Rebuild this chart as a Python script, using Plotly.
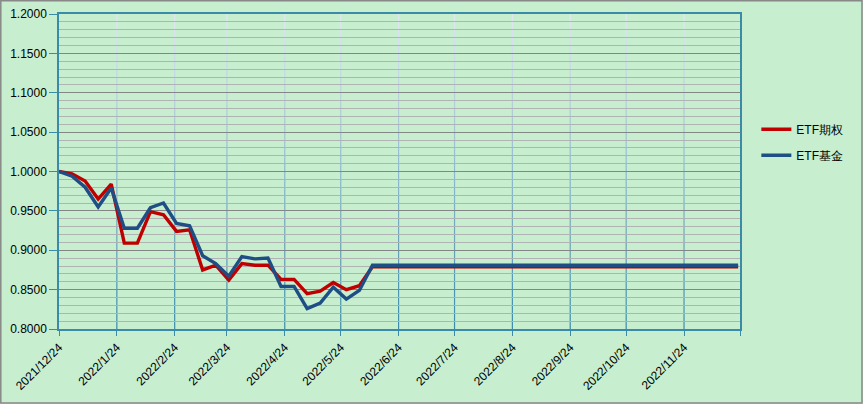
import plotly.graph_objects as go

dates = ["2021-12-24", "2021-12-31", "2022-01-07", "2022-01-14", "2022-01-21", "2022-01-28",
         "2022-02-04", "2022-02-11", "2022-02-18", "2022-02-25", "2022-03-04", "2022-03-11",
         "2022-03-18", "2022-03-25", "2022-04-01", "2022-04-08", "2022-04-15", "2022-04-22",
         "2022-04-29", "2022-05-06", "2022-05-13", "2022-05-20", "2022-05-27", "2022-06-03",
         "2022-06-10", "2022-12-23"]
etf_option = [1.000, 0.997, 0.988, 0.965, 0.984, 0.909, 0.909, 0.949, 0.945, 0.924, 0.926, 0.875,
              0.881, 0.862, 0.883, 0.881, 0.881, 0.863, 0.863, 0.845, 0.848, 0.859, 0.850, 0.855,
              0.879, 0.879]
etf_fund = [1.000, 0.994, 0.980, 0.955, 0.979, 0.928, 0.928, 0.954, 0.960, 0.934, 0.931, 0.893,
            0.883, 0.867, 0.892, 0.889, 0.890, 0.854, 0.854, 0.826, 0.833, 0.853, 0.838, 0.849,
            0.881, 0.881]
tick_dates = ["2021-12-24", "2022-01-24", "2022-02-24", "2022-03-24", "2022-04-24", "2022-05-24",
              "2022-06-24", "2022-07-24", "2022-08-24", "2022-09-24", "2022-10-24", "2022-11-24",
              "2022-12-24"]
tick_labels = ["2021/12/24", "2022/1/24", "2022/2/24", "2022/3/24", "2022/4/24", "2022/5/24",
               "2022/6/24", "2022/7/24", "2022/8/24", "2022/9/24", "2022/10/24", "2022/11/24", ""]
y_ticks = [0.80, 0.85, 0.90, 0.95, 1.00, 1.05, 1.10, 1.15, 1.20]

BG = "#C6EECF"
AXIS = "#3A8BA8"
FONT = "Liberation Sans"
Y0, Y1 = 0.8, 1.2

fig = go.Figure()
fig.add_trace(go.Scatter(x=dates, y=etf_option, mode="lines", name="ETF期权", legendgroup="a",
                         line=dict(color="#C00000", width=3.4)))
fig.add_trace(go.Scatter(x=dates, y=etf_fund, mode="lines", name="ETF基金", legendgroup="b",
                         line=dict(color="#1F4E85", width=3.4)))

# vertical gridlines with a light-to-teal gradient (top to bottom)
top_rgb = (0xE4, 0xE8, 0xF4)
bot_rgb = (0x3A, 0x8B, 0xA8)
nseg = 40
for d in tick_dates[1:-1]:
    for i in range(nseg):
        f = (i + 0.5) / nseg
        c = tuple(round(bot_rgb[k] + (top_rgb[k] - bot_rgb[k]) * f) for k in range(3))
        fig.add_shape(type="line", xref="x", yref="y", x0=d, x1=d,
                      y0=Y0 + (Y1 - Y0) * i / nseg, y1=Y0 + (Y1 - Y0) * (i + 1) / nseg,
                      line=dict(color="rgb(%d,%d,%d)" % c, width=1.2), layer="below")

fig.update_layout(
    width=863, height=404,
    margin=dict(l=59, r=123, t=14, b=75, autoexpand=False),
    paper_bgcolor=BG, plot_bgcolor=BG,
    font=dict(family=FONT, size=12, color="#000000"),
    showlegend=True,
    legend=dict(x=1.024, y=0.68, xanchor="left", yanchor="top", bgcolor="rgba(0,0,0,0)",
                font=dict(family=FONT, size=12, color="#000000"), itemwidth=30,
                tracegroupgap=7, traceorder="grouped"),
    xaxis=dict(
        type="date", range=["2021-12-24", "2022-12-24"], automargin=False,
        tickmode="array", tickvals=tick_dates, ticktext=tick_labels, tickangle=-45,
        showgrid=False,
        showline=True, linecolor=AXIS, linewidth=1.5, mirror=True,
        ticks="outside", ticklen=5, tickcolor=AXIS,
        tickfont=dict(family=FONT, size=12, color="#000000"),
        zeroline=False,
    ),
    yaxis=dict(
        range=[Y0, Y1], tickmode="array", tickvals=y_ticks, automargin=False,
        tickformat=".4f",
        showgrid=True, gridcolor="#858585", gridwidth=1,
        minor=dict(dtick=0.01, showgrid=True, gridcolor="#B2B2B4", gridwidth=1),
        showline=True, linecolor=AXIS, linewidth=1.5, mirror=True,
        ticks="outside", ticklen=8, tickcolor=AXIS,
        tickfont=dict(family=FONT, size=12, color="#000000"),
        zeroline=False,
    ),
)

# outer chart border
fig.add_shape(type="rect", xref="paper", yref="paper",
              x0=-58.2/681, x1=(863-59-1)/681, y0=-(75-1)/315, y1=(315+14-0.8)/315,
              line=dict(color="#888888", width=1.5), fillcolor="rgba(0,0,0,0)", layer="below")

fig.write_html("out.html", config={"displayModeBar": False},
               post_script="document.body.style.margin='0';document.body.style.background='#C6EECF';")
